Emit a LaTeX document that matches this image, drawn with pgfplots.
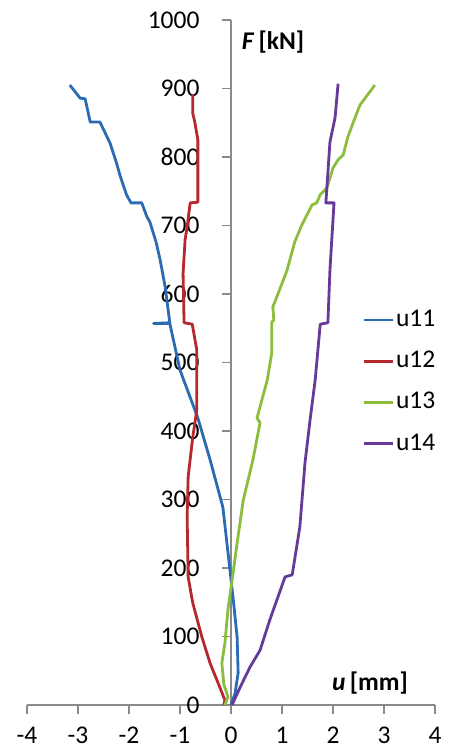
\documentclass[border=0pt]{standalone}
\usepackage{fontspec}
\setmainfont{Carlito}
\usepackage{pgfplots}
\pgfplotsset{compat=1.18}

\definecolor{cBlue}{HTML}{2B6BB3}
\definecolor{cRed}{HTML}{B5282E}
\definecolor{cGreen}{HTML}{8CBD3F}
\definecolor{cPurple}{HTML}{673A99}
\definecolor{axgray}{HTML}{8A8A8A}

\begin{document}
\fontsize{25}{30}\selectfont
\begin{tikzpicture}
\useasboundingbox (-27pt,-41pt) rectangle (421pt,705pt);
\begin{axis}[
    at={(0,0)}, anchor=south west,
    scale only axis, width=408pt, height=685pt,
    xmin=-4, xmax=4, ymin=0, ymax=1000,
    axis x line=bottom, axis y line=center,
    axis line style={draw=axgray, line width=1.2pt, -},
    xtick={-4,-3,...,4},
    ytick={0,100,...,1000},
    tick style={draw=axgray, line width=1.2pt},
    xtick align=outside, ytick align=outside,
    major tick length=9pt,
    hide obscured x ticks=false, hide obscured y ticks=false,
    /pgf/number format/assume math mode=true,
    /pgf/number format/set thousands separator={},
    ticklabel style={font=\fontsize{25.5}{30}\selectfont, text=black},
    yticklabel style={anchor=east, xshift=-14pt},
    xticklabel style={anchor=north, inner sep=0pt, text depth=0pt, yshift=-13pt},
    clip=false,
    legend cell align=left,
    legend image code/.code={\draw[#1] (0pt,0pt) -- (29pt,0pt);},
    legend style={draw=none, fill=none, at={(axis cs:2.57,580)}, anchor=north west,
        inner sep=0pt, row sep=17pt,
        nodes={inner sep=2pt, font=\fontsize{25.5}{30}\selectfont}},
    every axis plot/.append style={line width=2.8pt, line join=round},
]

% u11
\addplot[cBlue] coordinates {
(0,0) (0.08,17) (0.14,47) (0.12,99) (0.05,150) (-0.02,197) (-0.16,289)
(-0.41,358) (-0.65,419) (-1.0,489) (-1.20,557) (-1.52,557) (-1.20,558)
(-1.29,610) (-1.39,650) (-1.47,676) (-1.59,705) (-1.65,713) (-1.75,733)
(-1.96,733) (-2.05,745) (-2.18,774) (-2.24,790) (-2.37,820) (-2.57,851)
(-2.76,851) (-2.86,885) (-2.96,886) (-3.16,905)
};
\addlegendentry{u11}

% u12
\addplot[cRed] coordinates {
(-0.14,0) (-0.12,7) (-0.22,26) (-0.41,61) (-0.57,99) (-0.75,149) (-0.84,187)
(-0.86,275) (-0.84,333) (-0.75,391) (-0.67,431) (-0.67,518) (-0.76,556)
(-0.92,558) (-0.94,630) (-0.90,679) (-0.86,698) (-0.80,733) (-0.65,734)
(-0.65,825) (-0.71,851) (-0.75,864) (-0.75,891)
};
\addlegendentry{u12}

% u13
\addplot[cGreen] coordinates {
(-0.12,0) (-0.06,12) (-0.14,30) (-0.18,61) (-0.12,90) (-0.06,139) (0.04,192)
(0.11,231) (0.24,299) (0.43,358) (0.57,412) (0.51,419) (0.71,474) (0.80,514)
(0.80,559) (0.84,562) (0.82,581) (0.90,596) (1.10,635) (1.25,676) (1.39,701)
(1.59,730) (1.68,733) (1.75,745) (1.88,755) (2.0,784) (2.10,796) (2.20,803)
(2.29,829) (2.43,857) (2.53,876) (2.82,905)
};
\addlegendentry{u13}

% u14
\addplot[cPurple] coordinates {
(0.02,0) (0.18,26) (0.37,55) (0.57,80) (0.76,124) (1.06,187) (1.20,190)
(1.35,260) (1.45,353) (1.55,416) (1.65,474) (1.75,556) (1.90,558) (1.94,635)
(2.02,733) (1.86,733) (1.88,755) (1.94,822) (2.04,857) (2.10,907)
};
\addlegendentry{u14}

\node[anchor=west, inner sep=0pt, font=\fontsize{25.5}{30}\selectfont\bfseries]
    at (axis cs:0.21,968) {\textit{F}\,[kN]};
\node[anchor=west, inner sep=0pt, font=\fontsize{25.5}{30}\selectfont\bfseries]
    at (axis cs:1.98,32) {\textit{u}\,[mm]};
\end{axis}
\end{tikzpicture}
\end{document}
